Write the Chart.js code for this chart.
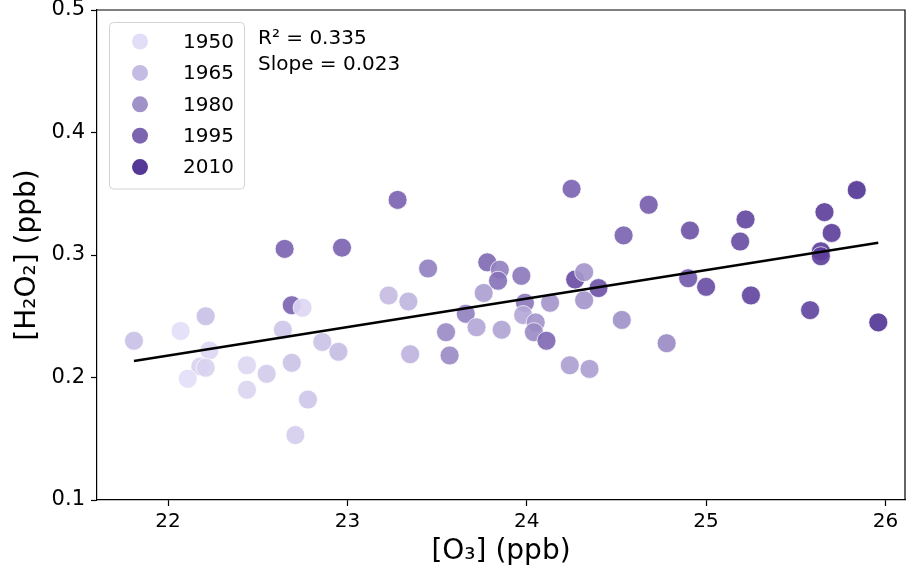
<!DOCTYPE html>
<html>
<head>
<meta charset="utf-8">
<script src="https://cdn.jsdelivr.net/npm/chart.js@4.4.0/dist/chart.umd.min.js"></script>
<style>
  html, body { margin: 0; padding: 0; background: #fff; }
  #wrap { width: 906px; height: 571px; }
</style>
</head>
<body>
<div id="wrap"><canvas id="chart" width="906" height="571"></canvas></div>
<script>
// Datos: [O3] vs [H2O2] coloreado por año
const O3_PPB = [
  21.81, 22.07, 22.21, 22.23, 22.18, 22.21, 22.11, 22.44, 22.44, 22.55,
  22.69, 22.75, 22.64, 22.69, 22.78, 22.71, 22.86, 22.65, 22.97, 22.95,
  23.28, 23.45, 23.23, 23.34, 23.35, 23.55, 23.57, 23.66, 23.72, 23.78,
  23.76, 23.85, 23.84, 23.86, 23.97, 23.99, 23.98, 24.05, 24.04, 24.11,
  24.13, 24.25, 24.24, 24.27, 24.32, 24.32, 24.35, 24.40, 24.53, 24.54,
  24.68, 24.78, 24.91, 24.90, 25.00, 25.22, 25.19, 25.25, 25.58, 25.66,
  25.70, 25.64, 25.64, 25.84, 25.96
];
const H2O2_PPB = [
  0.230, 0.238, 0.250, 0.222, 0.209, 0.208, 0.199, 0.210, 0.190, 0.203,
  0.259, 0.257, 0.239, 0.212, 0.182, 0.153, 0.229, 0.305, 0.306, 0.221,
  0.345, 0.289, 0.267, 0.262, 0.219, 0.237, 0.218, 0.252, 0.241, 0.294,
  0.269, 0.288, 0.279, 0.239, 0.283, 0.261, 0.251, 0.245, 0.237, 0.230,
  0.261, 0.354, 0.210, 0.280, 0.286, 0.263, 0.207, 0.273, 0.247, 0.316,
  0.341, 0.228, 0.320, 0.281, 0.274, 0.329, 0.311, 0.267, 0.255, 0.335,
  0.318, 0.303, 0.299, 0.353, 0.245
];
const YEAR = [
  1963, 1950, 1963, 1953, 1955, 1955, 1950, 1953, 1954, 1958,
  1995, 1953, 1960, 1962, 1960, 1957, 1962, 1995, 1995, 1964,
  1995, 1985, 1965, 1967, 1968, 1982, 1982, 1985, 1972, 1993,
  1975, 1985, 1990, 1973, 1988, 1988, 1972, 1978, 1982, 1993,
  1978, 1995, 1975, 2002, 1978, 1978, 1975, 2000, 1980, 1995,
  1997, 1982, 2000, 1998, 2002, 2004, 2002, 2005, 2005, 2007,
  2007, 2007, 2007, 2010, 2010
];

// Recta de ajuste
const FIT_X = [21.81, 25.96];
const FIT_Y = [0.2135, 0.310];
const STATS_TEXT = ['R\u00B2 = 0.335', 'Slope = 0.023'];

// Leyenda
const LEGEND_YEARS = [1950, 1965, 1980, 1995, 2010];
const LEGEND_COLORS = ['#e3def7', '#c5bce3', '#a091c9', '#7c64b1', '#553796'];

// Ejes
const X_TICKS = [22, 23, 24, 25, 26];
const Y_TICKS = [0.1, 0.2, 0.3, 0.4, 0.5];

const FONT = 'DejaVu Sans';

function hexToRgb(h) {
  const n = parseInt(h.slice(1), 16);
  return [(n >> 16) & 255, (n >> 8) & 255, n & 255];
}

// color por año, interpolado entre los colores de la leyenda
function yearColor(year, alpha) {
  const ys = LEGEND_YEARS;
  let i = 0;
  if (year <= ys[0]) i = 0;
  else if (year >= ys[ys.length - 1]) i = ys.length - 2;
  else while (year > ys[i + 1]) i++;
  const t = Math.min(1, Math.max(0, (year - ys[i]) / (ys[i + 1] - ys[i])));
  const a = hexToRgb(LEGEND_COLORS[i]);
  const b = hexToRgb(LEGEND_COLORS[i + 1]);
  const c = a.map((v, k) => Math.round(v + (b[k] - v) * t));
  return `rgba(${c[0]},${c[1]},${c[2]},${alpha})`;
}

const points = O3_PPB.map((x, i) => ({ x, y: H2O2_PPB[i] }));
const pointColors = YEAR.map(y => yearColor(y, 0.92));

// Plugin: marco superior/derecho, leyenda y texto de estadísticos
const overlayPlugin = {
  id: 'overlay',
  afterDraw(chart) {
    const { ctx, chartArea } = chart;
    ctx.save();
    ctx.strokeStyle = '#000';
    ctx.lineWidth = 1.2;
    ctx.beginPath();
    ctx.moveTo(chartArea.left, chartArea.top);
    ctx.lineTo(chartArea.right, chartArea.top);
    ctx.lineTo(chartArea.right, chartArea.bottom);
    ctx.stroke();

    // caja de leyenda
    ctx.beginPath();
    ctx.roundRect(109.5, 22.5, 135, 166.5, 4);
    ctx.fillStyle = 'rgba(255,255,255,0.8)';
    ctx.fill();
    ctx.strokeStyle = '#d3d3d3';
    ctx.lineWidth = 1;
    ctx.stroke();

    ctx.font = `20px "${FONT}"`;
    ctx.textBaseline = 'middle';
    LEGEND_YEARS.forEach((yr, i) => {
      const cy = 41.5 + i * 31.4;
      ctx.beginPath();
      ctx.arc(140, cy, 8, 0, Math.PI * 2);
      ctx.fillStyle = LEGEND_COLORS[i];
      ctx.fill();
      ctx.fillStyle = '#000';
      ctx.textAlign = 'right';
      ctx.fillText(String(yr), 234, cy + 1);
    });

    ctx.textAlign = 'left';
    ctx.fillStyle = '#000';
    STATS_TEXT.forEach((t, i) => {
      ctx.fillText(t, 258, 39 + i * 26);
    });
    ctx.restore();
  }
};

const ctx = document.getElementById('chart').getContext('2d');
new Chart(ctx, {
  type: 'scatter',
  data: {
    datasets: [
      {
        type: 'line',
        data: FIT_X.map((x, i) => ({ x, y: FIT_Y[i] })),
        borderColor: '#000',
        borderWidth: 2.5,
        pointRadius: 0,
        fill: false,
        order: 0
      },
      {
        data: points,
        backgroundColor: pointColors,
        borderColor: 'rgba(255,255,255,0.7)',
        borderWidth: 1,
        pointRadius: 9.5,
        pointHoverRadius: 9.5,
        order: 1
      }
    ]
  },
  plugins: [overlayPlugin],
  options: {
    responsive: false,
    animation: false,
    layout: { autoPadding: false, padding: { left: 0, top: 10, right: 1, bottom: 0 } },
    plugins: {
      legend: { display: false },
      tooltip: { enabled: false }
    },
    scales: {
      x: {
        type: 'linear',
        min: 21.604,
        max: 26.109,
        afterBuildTicks(scale) { scale.ticks = X_TICKS.map(v => ({ value: v })); },
        afterFit(scale) { scale.height = 71; scale.paddingLeft = 0; scale.paddingRight = 0; },
        ticks: {
          color: '#000',
          font: { family: FONT, size: 20 },
          padding: 4,
          callback: v => String(v)
        },
        grid: { drawOnChartArea: false, tickLength: 6, tickColor: '#000', tickWidth: 1.2 },
        border: { color: '#000', width: 1.2 },
        title: {
          display: true,
          text: '[O\u2083] (ppb)',
          color: '#000',
          font: { family: FONT, size: 28 },
          padding: { top: 0, bottom: 2 }
        }
      },
      y: {
        min: 0.1,
        max: 0.5,
        afterBuildTicks(scale) { scale.ticks = Y_TICKS.map(v => ({ value: v })); },
        afterFit(scale) { scale.width = 97; scale.paddingTop = 0; scale.paddingBottom = 0; },
        ticks: {
          color: '#000',
          font: { family: FONT, size: 21 },
          padding: 6,
          callback: v => v.toFixed(1)
        },
        grid: { drawOnChartArea: false, tickLength: 6, tickColor: '#000', tickWidth: 1.2 },
        border: { color: '#000', width: 1.2 },
        title: {
          display: true,
          text: '[H\u2082O\u2082] (ppb)',
          color: '#000',
          font: { family: FONT, size: 28 },
          padding: { top: 11, bottom: 10 }
        }
      }
    }
  }
});
</script>
</body>
</html>
